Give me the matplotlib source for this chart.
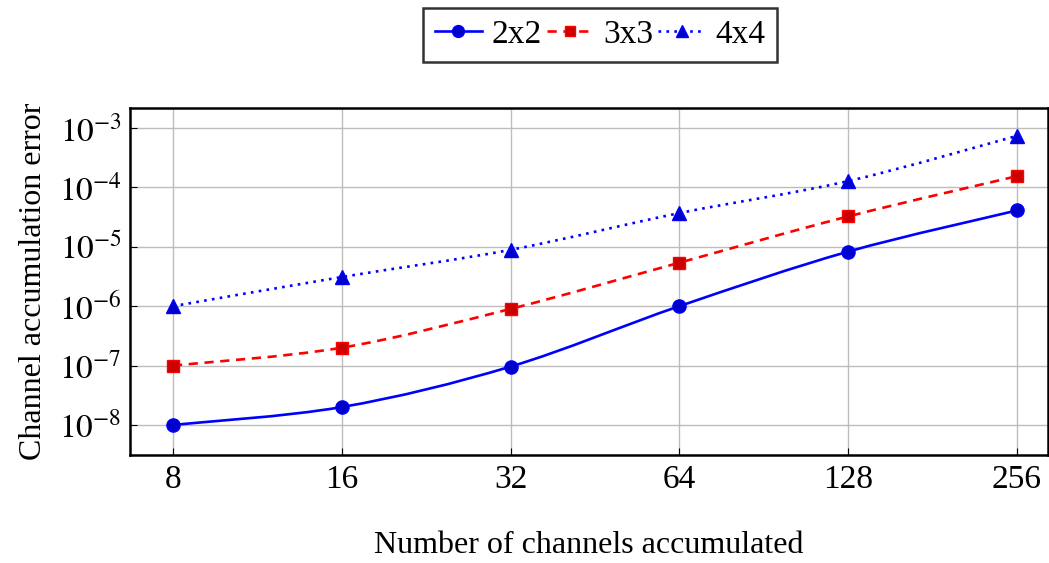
import numpy as np
import matplotlib
matplotlib.use("Agg")
import matplotlib.pyplot as plt
from matplotlib.path import Path
from matplotlib.patches import PathPatch
from matplotlib.lines import Line2D

plt.rcParams['font.family'] = ['Liberation Serif', 'DejaVu Serif']
plt.rcParams['mathtext.fontset'] = 'stix'

# data
channels = [8, 16, 32, 64, 128, 256]
err_2x2 = [1.0e-8, 2.0e-8, 9.6e-8, 1.0e-6, 8.3e-6, 4.1e-5]
err_3x3 = [1.0e-7, 2.0e-7, 9.0e-7, 5.4e-6, 3.25e-5, 1.55e-4]
err_4x4 = [1.0e-6, 3.1e-6, 8.9e-6, 3.7e-5, 1.28e-4, 7.4e-4]
labels = ['2x2', '3x3', '4x4']


def smooth_path(x, y):
    # bezier through the points (like pgfplots "smooth"), built in log space
    lx = np.log2(x)
    ly = np.log10(y)
    n = len(lx)
    verts = [(lx[0], ly[0])]
    codes = [Path.MOVETO]
    k = 0.5 / 3
    for i in range(n - 1):
        p0 = max(i - 1, 0)
        p3 = min(i + 2, n - 1)
        c1 = (lx[i] + k * (lx[i + 1] - lx[p0]), ly[i] + k * (ly[i + 1] - ly[p0]))
        c2 = (lx[i + 1] - k * (lx[p3] - lx[i]), ly[i + 1] - k * (ly[p3] - ly[i]))
        verts += [c1, c2, (lx[i + 1], ly[i + 1])]
        codes += [Path.CURVE4] * 3
    verts = [(2 ** a, 10 ** b) for a, b in verts]
    return Path(verts, codes)


fig = plt.figure(figsize=(10.49, 5.63), dpi=100)
ax = fig.add_axes([0.124, 0.192, 0.875, 0.616])
ax.set_xscale('log', base=2)
ax.set_yscale('log')

series = [
    (err_2x2, 'blue', (0, 0, 0.8), '-', 'o', 9.5),
    (err_3x3, 'red', (0.8, 0, 0), (0, (3.5, 2.5)), 's', 8.5),
    (err_4x4, 'blue', (0, 0, 0.8), (0, (1, 2)), '^', 9.5),
]
handles = []
for (vals, col, fill, ls, mk, ms), lab in zip(series, labels):
    patch = PathPatch(smooth_path(channels, vals), facecolor='none', edgecolor=col,
                      linewidth=1.9, linestyle=ls, zorder=3)
    ax.add_patch(patch)
    ax.plot(channels, vals, linestyle='none', marker=mk, markersize=ms,
            markerfacecolor=fill, markeredgecolor=col, zorder=4)
    handles.append(Line2D([], [], color=col, linestyle=ls, linewidth=1.9, marker=mk,
                          markersize=ms * 0.9, markerfacecolor=fill, markeredgecolor=col))

ax.set_xlim(6.71, 290.8)
ax.set_ylim(10 ** -8.505, 10 ** -2.663)
ax.set_xticks(channels)
ax.set_xticklabels([str(c) for c in channels])
ax.minorticks_off()
ax.set_yticks([1e-8, 1e-7, 1e-6, 1e-5, 1e-4, 1e-3])
ax.set_yticklabels([r'$10^{-%d}$' % d for d in [8, 7, 6, 5, 4, 3]])
ax.yaxis.set_minor_locator(matplotlib.ticker.LogLocator(base=10, subs=np.arange(2, 10)))
ax.yaxis.set_minor_formatter(matplotlib.ticker.NullFormatter())
ax.tick_params(axis='both', which='major', direction='in', labelsize=24, length=5, width=0.8)
ax.tick_params(axis='y', which='minor', direction='in', length=3, width=0.6)
ax.tick_params(axis='x', pad=7)
ax.tick_params(axis='y', pad=6)
ax.grid(True, which='major', color='#bdbdbd', linewidth=1.0)
for s in ax.spines.values():
    s.set_linewidth(1.8)

ax.set_xlabel('Number of channels accumulated', fontsize=23, labelpad=26)
ax.set_ylabel('Channel accumulation error', fontsize=23, labelpad=8)

leg = fig.legend(handles, labels, loc='upper center', bbox_to_anchor=(0.572, 0.986), ncol=3,
                 fontsize=24, frameon=True, fancybox=False, handlelength=1.4,
                 handletextpad=0.3, columnspacing=0.15, borderpad=0.35, borderaxespad=0)
leg.get_frame().set_edgecolor('black')
leg.get_frame().set_linewidth(1.8)

fig.savefig('out.png', dpi=100)
